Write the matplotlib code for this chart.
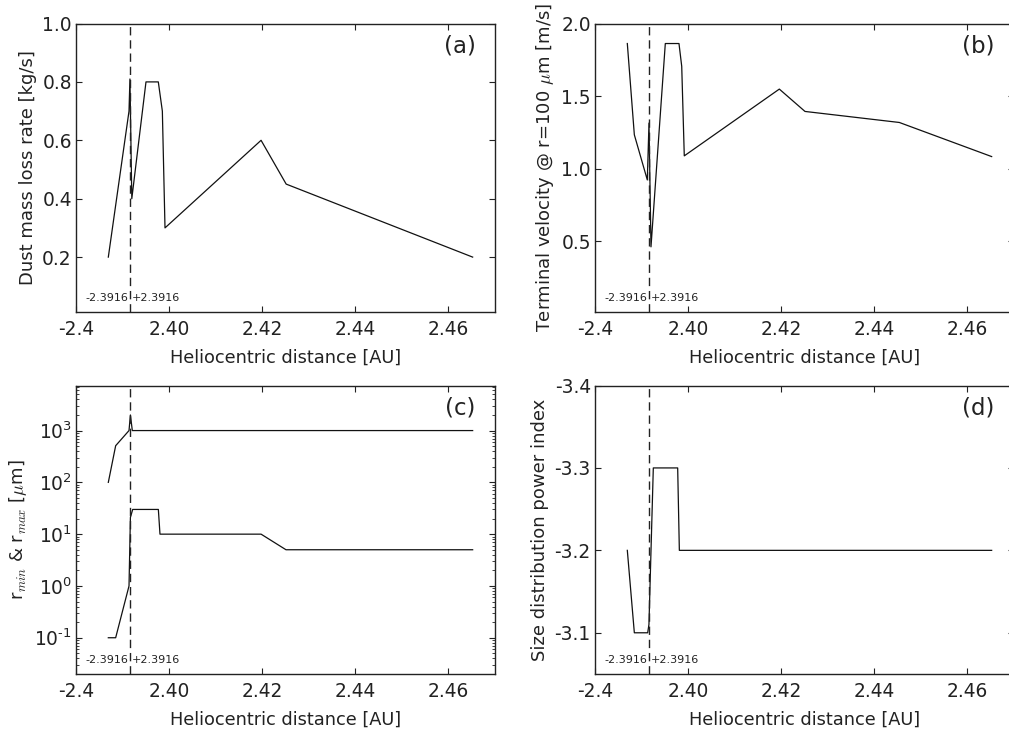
import matplotlib
matplotlib.use("Agg")
import matplotlib.pyplot as plt
from matplotlib.ticker import FixedLocator, LogLocator, NullFormatter

plt.rcParams['font.family'] = ['DejaVu Sans']
plt.rcParams['axes.unicode_minus'] = False

# ---- data ----
# (a) dust mass loss rate
xa = [2.38695, 2.3914, 2.3916, 2.3920, 2.39505, 2.3977, 2.39857, 2.39914, 2.4198, 2.4252, 2.4653]
ya = [0.2, 0.7, 0.81, 0.4, 0.8, 0.8, 0.7, 0.3, 0.6, 0.45, 0.2]

# (b) terminal velocity
xb = [2.38695, 2.38846, 2.39125, 2.39161, 2.39204, 2.39512, 2.39806, 2.39865, 2.3992, 2.41964, 2.42516, 2.44545, 2.4653]
yb = [1.862, 1.233, 0.922, 1.314, 0.461, 1.862, 1.862, 1.705, 1.088, 1.548, 1.394, 1.318, 1.083]

# (c) r_max and r_min
xc_max = [2.38695, 2.38853, 2.3914, 2.3917, 2.39211, 2.4653]
yc_max = [100, 510, 1000, 2000, 1000, 1000]
xc_min = [2.38695, 2.38853, 2.3914, 2.3917, 2.39219, 2.39771, 2.39806, 2.4198, 2.42516, 2.4653]
yc_min = [0.1, 0.1, 1.0, 21, 30, 30, 10, 10, 5, 5]
yticks_c = [0.1, 1, 10, 100, 1000]
yticklabels_c = ['$\\mathregular{10^{\u20101}}$', r'$\mathregular{10^{0}}$', r'$\mathregular{10^{1}}$',
                 r'$\mathregular{10^{2}}$', r'$\mathregular{10^{3}}$']

# (d) size distribution power index
xd = [2.38695, 2.38846, 2.39133, 2.3916, 2.39254, 2.39778, 2.39814, 2.4653]
yd = [-3.2, -3.1, -3.1, -3.11, -3.3, -3.3, -3.2, -3.2]

perihelion = 2.3916
xticks = [2.38, 2.40, 2.42, 2.44, 2.46]
xticklabels = ['-2.4', '2.40', '2.42', '2.44', '2.46']

text_col = '#222222'
TS = 13.4

fig = plt.figure(figsize=(10.09, 7.30), dpi=100)
W, H = 1009.0, 730.0
aw = 418.5 / W
ah = 288.5 / H
axA = fig.add_axes([76 / W, 1 - 312 / H, aw, ah])
axB = fig.add_axes([595 / W, 1 - 312 / H, aw, ah])
axC = fig.add_axes([76 / W, 1 - 674 / H, aw, ah])
axD = fig.add_axes([595 / W, 1 - 674 / H, aw, ah])

lw = 0.9

def common(ax, label):
    ax.set_xlim(2.38, 2.47)
    ax.set_xticks(xticks)
    ax.set_xticklabels(xticklabels, fontsize=TS, color=text_col)
    ax.tick_params(which='both', direction='in', top=True, right=True, colors=text_col)
    ax.tick_params(which='major', length=4.5, width=0.8)
    ax.tick_params(axis='x', which='major', pad=6)
    ax.tick_params(axis='y', which='major', pad=3)
    ax.tick_params(which='minor', length=2.5, width=0.6)
    ax.set_xlabel('Heliocentric distance [AU]', fontsize=12.8, color=text_col, labelpad=7)
    for s in ax.spines.values():
        s.set_linewidth(1.0)
        s.set_color('#222222')
    ax.axvline(perihelion, color='#222222', lw=1.0, dashes=(6, 3.5))
    ax.text(0.955, 0.962, label, transform=ax.transAxes, ha='right', va='top',
            fontsize=16.5, color=text_col)
    ax.text(perihelion - 0.0003, 0.03, '-2.3916', transform=ax.get_xaxis_transform(),
            ha='right', va='bottom', fontsize=8, color=text_col)
    ax.text(perihelion + 0.0003, 0.03, '+2.3916', transform=ax.get_xaxis_transform(),
            ha='left', va='bottom', fontsize=8, color=text_col)

# (a)
axA.plot(xa, ya, color='#111111', lw=lw)
axA.set_ylim(0.012, 1.0)
axA.set_yticks([0.2, 0.4, 0.6, 0.8, 1.0])
axA.set_yticklabels(['0.2', '0.4', '0.6', '0.8', '1.0'], fontsize=TS, color=text_col)
axA.set_ylabel('Dust mass loss rate [kg/s]', fontsize=13, color=text_col)
common(axA, '(a)')

# (b)
axB.plot(xb, yb, color='#111111', lw=lw)
axB.set_ylim(0.012, 2.0)
axB.set_yticks([0.5, 1.0, 1.5, 2.0])
axB.set_yticklabels(['0.5', '1.0', '1.5', '2.0'], fontsize=TS, color=text_col)
axB.set_ylabel(r'Terminal velocity @ r=100 $\mu$m [m/s]', fontsize=13, color=text_col,
               math_fontfamily='cm')
common(axB, '(b)')

# (c)
axC.plot(xc_max, yc_max, color='#111111', lw=lw)
axC.plot(xc_min, yc_min, color='#111111', lw=lw)
axC.set_yscale('log')
axC.set_ylim(10 ** -1.70, 10 ** 3.87)
axC.yaxis.set_major_locator(FixedLocator(yticks_c))
axC.set_yticklabels(yticklabels_c, fontsize=TS, color=text_col)
axC.yaxis.set_minor_locator(LogLocator(base=10, subs=range(2, 10), numticks=20))
axC.yaxis.set_minor_formatter(NullFormatter())
axC.set_ylabel(r'r$_{min}$ & r$_{max}$ [$\mu$m]', fontsize=13, color=text_col,
               math_fontfamily='cm')
common(axC, '(c)')

# (d)
axD.plot(xd, yd, color='#111111', lw=lw)
axD.set_ylim(-3.05, -3.4)
axD.set_yticks([-3.1, -3.2, -3.3, -3.4])
axD.set_yticklabels(['-3.1', '-3.2', '-3.3', '-3.4'], fontsize=TS, color=text_col)
axD.set_ylabel('Size distribution power index', fontsize=13, color=text_col)
common(axD, '(d)')

fig.savefig('out.png', dpi=100)
